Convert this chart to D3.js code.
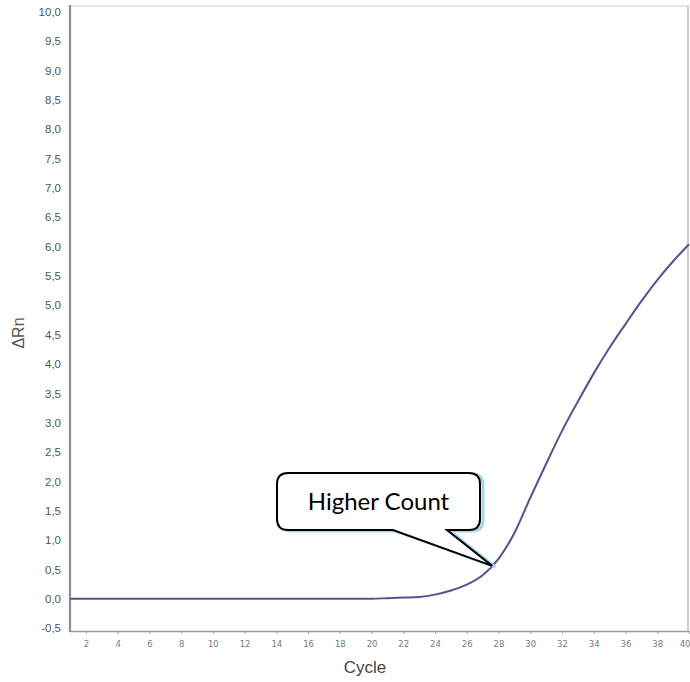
<!DOCTYPE html>
<html>
<head>
<meta charset="utf-8">
<script src="https://cdn.jsdelivr.net/npm/d3@7"></script>
<style>
	body { margin: 0; background: #fff; }
	svg { display: block; }
</style>
</head>
<body>
<div id="chart"></div>
<script>
// amplification data
let cycles = [1, 2, 3, 4, 5, 6, 7, 8, 9, 10, 11, 12, 13, 14, 15, 16, 17, 18, 19, 20,
	21, 22, 23, 24, 25, 26, 27, 28, 29, 30, 31, 32, 33, 34, 35, 36, 37, 38, 39, 40]
let deltaRn = [0, 0, 0, 0, 0, 0, 0, 0, 0, 0, 0, 0, 0, 0, 0, 0, 0, 0, 0, 0,
	0.01, 0.02, 0.03, 0.07, 0.14, 0.24, 0.40, 0.68, 1.12, 1.72, 2.30, 2.86, 3.36, 3.84, 4.28, 4.68, 5.07, 5.43, 5.75, 6.04]
let xTicks = [2, 4, 6, 8, 10, 12, 14, 16, 18, 20, 22, 24, 26, 28, 30, 32, 34, 36, 38, 40]
let yTicks = [-0.5, 0, 0.5, 1, 1.5, 2, 2.5, 3, 3.5, 4, 4.5, 5, 5.5, 6, 6.5, 7, 7.5, 8, 8.5, 9, 9.5, 10]
let annotText = 'Higher Count'
let annotPoint = [27.6, 0.56]

let W = 690
let H = 682

let svg = d3
	.select('#chart')
	.append('svg')
	.attr('width', W)
	.attr('height', H)

let x = d3.scaleLinear().domain([1, 40]).range([70, 689])
let y = d3.scaleLinear().domain([-0.55, 10.1]).range([631, 6])

// frame (top and right light lines)
svg.append('line')
	.attr('x1', 70).attr('x2', 689)
	.attr('y1', 6).attr('y2', 6)
	.attr('stroke', '#dedede').attr('stroke-width', 1.5)
svg.append('line')
	.attr('x1', 688).attr('x2', 688)
	.attr('y1', 6).attr('y2', 631)
	.attr('stroke', '#cfcfcf').attr('stroke-width', 2)

// x axis
let xAxis = svg.append('g')
	.attr('transform', 'translate(0,631)')
	.call(d3.axisBottom(x).tickValues(xTicks).tickSize(3).tickSizeOuter(0).tickPadding(6))
xAxis.select('.domain').attr('stroke', '#9a9ca3').attr('stroke-width', 1.5)
xAxis.selectAll('.tick line').attr('stroke', '#aaa')
xAxis.selectAll('text')
	.attr('fill', '#7a7a7a')
	.attr('font-size', 9.5)
	.attr('font-family', 'Liberation Sans Narrow, DejaVu Sans Condensed, sans-serif')
// last label sits at the right edge, keep it inside the page
xAxis.selectAll('.tick text')
	.filter(d => d === 40)
	.attr('text-anchor', 'end')
	.attr('dx', 1)

// y axis
let yAxis = svg.append('g')
	.attr('transform', 'translate(70,0)')
	.call(d3.axisLeft(y).tickValues(yTicks).tickSize(0).tickPadding(9)
		.tickFormat(d => d3.format('.1f')(d).replace('.', ',').replace('−', '-')))
yAxis.select('.domain').remove()
yAxis.selectAll('text')
	.attr('fill', '#555')
	.attr('font-size', 11.5)
	.attr('font-family', 'Liberation Sans, Arial, sans-serif')

svg.append('line')
	.attr('x1', 70).attr('x2', 70)
	.attr('y1', 5).attr('y2', 632)
	.attr('stroke', '#8a8e99').attr('stroke-width', 2.2)

// axis titles
svg.append('text')
	.attr('x', 365).attr('y', 673)
	.attr('text-anchor', 'middle')
	.attr('font-size', 17)
	.attr('font-family', 'Liberation Sans, Arial, sans-serif')
	.attr('fill', '#444')
	.text('Cycle')

svg.append('text')
	.attr('transform', 'translate(24,333) rotate(-90)')
	.attr('text-anchor', 'middle')
	.attr('font-size', 16)
	.attr('font-family', 'Liberation Sans, Arial, sans-serif')
	.attr('fill', '#555')
	.text('ΔRn')

// amplification curve
let pts = cycles.map((c, i) => [c, deltaRn[i]])
let line = d3.line()
	.x(d => x(d[0]))
	.y(d => y(d[1]))
	.curve(d3.curveMonotoneX)

svg.append('path')
	.datum(pts)
	.attr('fill', 'none')
	.attr('stroke', '#5e4f8c')
	.attr('stroke-width', 2)
	.attr('d', line)

// callout bubble
let bx0 = 277, bx1 = 480, by0 = 473, by1 = 530, r = 11
let px = x(annotPoint[0]), py = y(annotPoint[1])
let bubble = `M${bx0 + r},${by0} L${bx1 - r},${by0} Q${bx1},${by0} ${bx1},${by0 + r}` +
	` L${bx1},${by1 - r} Q${bx1},${by1} ${bx1 - r},${by1}` +
	` L447,${by1} L${px},${py} L393,${by1}` +
	` L${bx0 + r},${by1} Q${bx0},${by1} ${bx0},${by1 - r}` +
	` L${bx0},${by0 + r} Q${bx0},${by0} ${bx0 + r},${by0} Z`

svg.append('path')
	.attr('d', bubble)
	.attr('transform', 'translate(3,1)')
	.attr('fill', 'none')
	.attr('stroke', '#a7d6ea')
	.attr('stroke-width', 3)
svg.append('path')
	.attr('d', bubble)
	.attr('fill', '#fff')
	.attr('stroke', '#000')
	.attr('stroke-width', 2)

svg.append('text')
	.attr('x', (bx0 + bx1) / 2)
	.attr('y', 510)
	.attr('text-anchor', 'middle')
	.attr('font-size', 24)
	.attr('font-family', 'Lato, Open Sans, sans-serif')
	.attr('fill', '#000')
	.text(annotText)
</script>
</body>
</html>
